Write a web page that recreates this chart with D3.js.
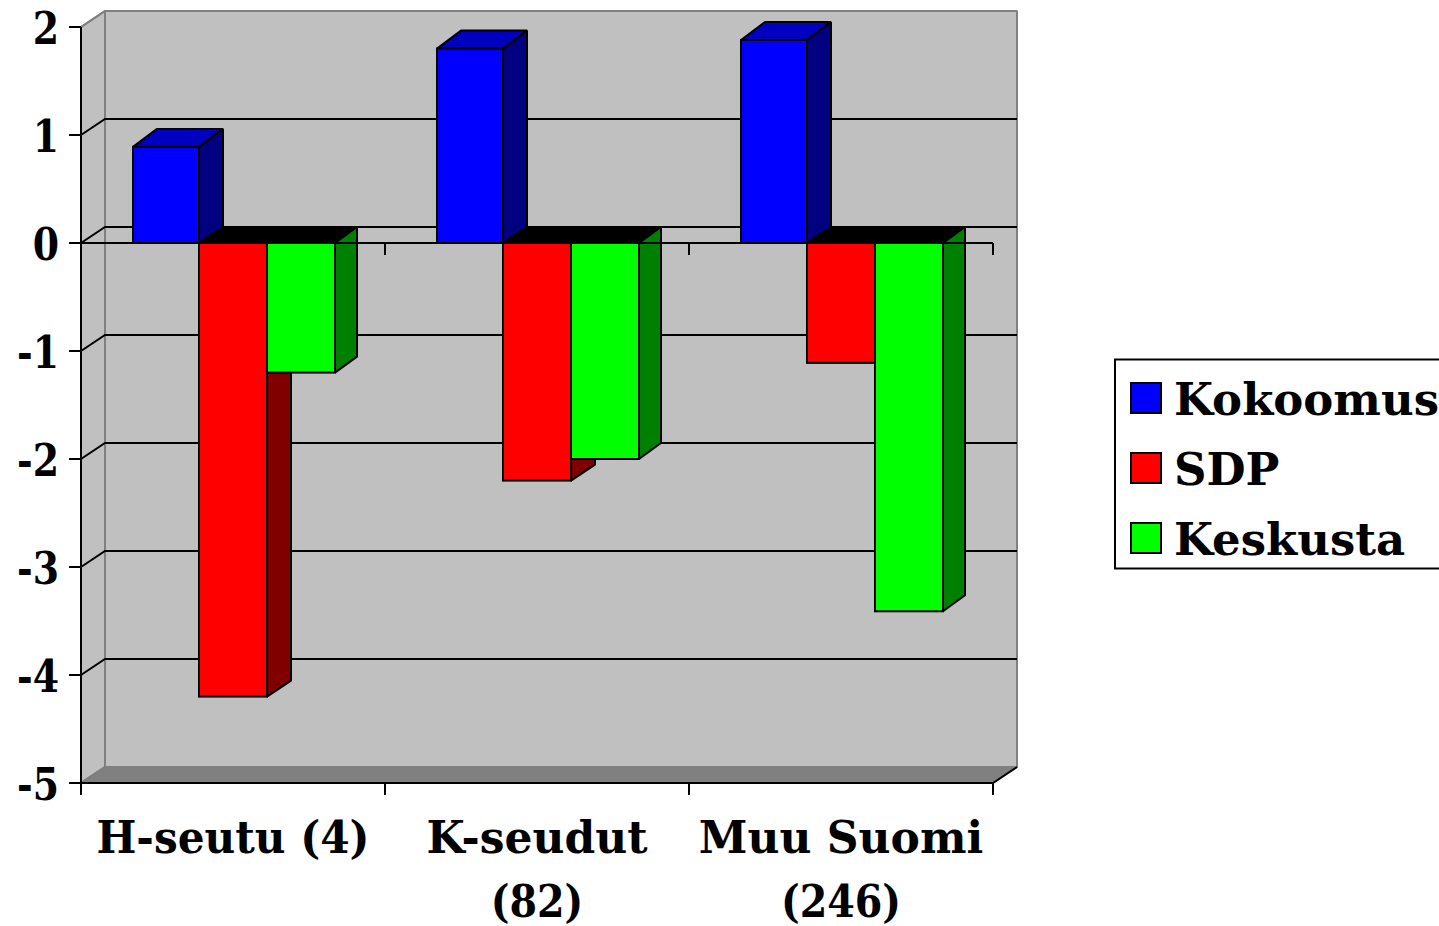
<html>
<head>
<script src='https://cdnjs.cloudflare.com/ajax/libs/d3/7.8.5/d3.min.js'></script>
<style>
html, body { margin: 0; background: #fff; overflow: hidden; }
text { font-family: 'DejaVu Serif'; font-weight: bold; fill: #000; }
</style>
</head>
<body>
<script>
var categories = [['H-seutu (4)'], ['K-seudut', '(82)'], ['Muu Suomi', '(246)']];
var seriesNames = ['Kokoomus', 'SDP', 'Keskusta'];
var kokoomus = [0.89, 1.80, 1.88];
var sdp = [-4.20, -2.20, -1.11];
var keskusta = [-1.20, -2.00, -3.41];
var yTicks = [2, 1, 0, -1, -2, -3, -4, -5];

var values = [kokoomus, sdp, keskusta];
var front = ['#0000ff', '#ff0000', '#00ff00'];
var side = ['#000080', '#800000', '#008000'];
var topColor = '#0000c0';

var svg = d3.select('body').append('svg').attr('width', 1439).attr('height', 926);

var y = d3.scaleLinear().domain([-5, 2]).range([783, 27]);
var x0 = d3.scaleBand().domain(d3.range(3)).range([81, 993]);
// edges of the three bars inside a group
var x1 = d3.scaleLinear().domain([0, 1, 3]).range([52, 118, 254]);
var xEdge = d3.scaleLinear().domain([0, 3]).range([81, 993]);
var dx = 24, dy = 16;

function pts(a) { return a.map(function (p) { return p.join(','); }).join(' '); }
function poly(g, a, fill, stroke, sw) {
    return g.append('polygon').attr('points', pts(a)).attr('fill', fill)
        .attr('stroke', stroke).attr('stroke-width', sw === undefined ? 2 : sw)
        .attr('stroke-linejoin', 'bevel');
}
// the original face is narrower than DejaVu Serif, so squeeze the text sideways
function squeeze(sel, k) {
    sel.each(function () {
        var len = this.getComputedTextLength();
        d3.select(this).attr('textLength', len * k).attr('lengthAdjust', 'spacingAndGlyphs');
    });
}

// walls and floor
var L = xEdge(0), R = xEdge(3), T = y(2), B = y(-5);
poly(svg, [[L, T], [L + dx, T - dy], [L + dx, B - dy], [L, B]], '#c0c0c0', '#808080');
poly(svg, [[L + dx, T - dy], [R + dx, T - dy], [R + dx, B - dy], [L + dx, B - dy]], '#c0c0c0', '#808080');
poly(svg, [[L, B], [L + dx, B - dy], [R + dx, B - dy], [R, B]], '#808080', '#707070');

// gridlines
yTicks.forEach(function (t) {
    var c = (t === 2 || t === -5) ? '#808080' : '#000';
    svg.append('polyline').attr('fill', 'none').attr('stroke', c).attr('stroke-width', 2)
        .attr('points', pts([[L, y(t)], [L + dx, y(t) - dy], [R + dx, y(t) - dy]]));
});
// floor corner on the right is black in the reference
svg.append('line').attr('x1', R).attr('y1', B).attr('x2', R + dx).attr('y2', B - dy)
    .attr('stroke', '#000').attr('stroke-width', 2);

// bars
d3.range(3).forEach(function (c) {
    var g = svg.append('g');
    var zero = y(0);
    // positive bar
    var bx = x0(c) + x1(0), bw = x1(1) - x1(0), by = y(kokoomus[c]);
    poly(g, [[bx, by], [bx + dx, by - 18], [bx + bw + dx, by - 18], [bx + bw, by]], topColor, '#000');
    poly(g, [[bx + bw, by], [bx + bw + dx, by - 18], [bx + bw + dx, zero - dy], [bx + bw, zero]], side[0], '#000');
    g.append('rect').attr('x', bx).attr('y', by).attr('width', bw).attr('height', zero - by)
        .attr('fill', front[0]).attr('stroke', '#000').attr('stroke-width', 2);

    // negative bars
    [1, 2].forEach(function (s) {
        var sx = x0(c) + x1(s), w = x1(s + 1) - x1(s), sy = y(values[s][c]);
        var d = s === 2 ? 22 : dx;
        poly(g, [[sx, zero], [sx + dx, zero - dy], [sx + w + d, zero - dy], [sx + w, zero]], '#000', '#000');
        poly(g, [[sx + w, zero], [sx + w + d, zero - dy], [sx + w + d, sy - dy], [sx + w, sy]], side[s], '#000');
        g.append('rect').attr('x', sx).attr('y', zero).attr('width', w).attr('height', sy - zero)
            .attr('fill', front[s]).attr('stroke', '#000').attr('stroke-width', 2);
    });
});

// axes
function styleAxis(g) {
    g.selectAll('path, line').attr('stroke', '#000').attr('stroke-width', 2);
    g.select('.domain').attr('fill', 'none');
}
var axisY = svg.append('g').attr('transform', 'translate(' + L + ',0)')
    .call(d3.axisLeft(y).tickValues(yTicks).tickSize(12).tickSizeOuter(0).offset(0)
        .tickFormat(d3.format('d')));
axisY.call(styleAxis);
axisY.selectAll('text').attr('font-size', 45).attr('x', -22).attr('dy', 0)
    .attr('y', 17).style('font-family', "'DejaVu Serif'").style('font-weight', 'bold')
    .text(function (d) { return String(d); })
    .call(squeeze, 0.84);

var axisZero = svg.append('g').attr('transform', 'translate(0,' + y(0) + ')')
    .call(d3.axisBottom(xEdge).tickValues([1, 2, 3]).tickSize(12).tickSizeOuter(0).offset(0).tickFormat(''));
axisZero.call(styleAxis);

var axisX = svg.append('g').attr('transform', 'translate(0,' + B + ')')
    .call(d3.axisBottom(xEdge).tickValues([0, 1, 2, 3]).tickSize(12).tickSizeOuter(0).offset(0).tickFormat(''));
axisX.call(styleAxis);

// category labels
categories.forEach(function (lines, c) {
    lines.forEach(function (s, i) {
        var t = svg.append('text').attr('x', x0(c) + x0.bandwidth() / 2).attr('y', 853 + i * 64)
            .attr('text-anchor', 'middle').attr('font-size', 44).text(s);
        // numbers in brackets run narrow in the original
        if (s.indexOf('(') === 0) t.call(squeeze, 0.9);
        else if (s.indexOf('(') > 0) t.call(squeeze, 0.96);
    });
});

// legend
var legend = svg.append('g');
legend.append('rect').attr('x', 1115).attr('y', 359.5).attr('width', 340).attr('height', 209)
    .attr('fill', '#fff').attr('stroke', '#000').attr('stroke-width', 2);
seriesNames.forEach(function (s, i) {
    legend.append('rect').attr('x', 1131).attr('y', 383 + i * 70).attr('width', 30).attr('height', 30)
        .attr('fill', front[i]).attr('stroke', '#000').attr('stroke-width', 2);
    legend.append('text').attr('x', 1174).attr('y', 415 + i * 70).attr('font-size', 45).text(s);
});
</script>
</body>
</html>
